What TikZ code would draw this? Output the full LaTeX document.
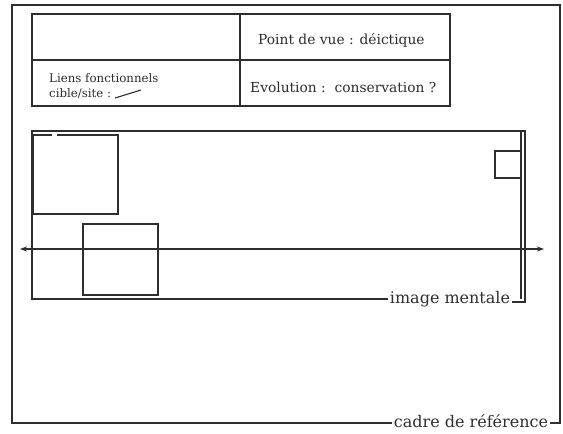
\documentclass[tikz,border=0pt]{standalone}
\usepackage{fontspec}
\setmainfont{DejaVu Serif}
\usetikzlibrary{arrows.meta}
\definecolor{ink}{HTML}{2E2E2E}
\tikzset{
  frameline/.style={draw=ink, line width=1.1pt},
  boxline/.style={draw=ink, line width=1.6pt},
  tabletext/.style={text=ink, inner sep=0pt, anchor=west, font=\fontsize{13.8}{16}\selectfont},
  lefttext/.style={text=ink, inner sep=0pt, anchor=west, font=\fontsize{11.8}{14.5}\selectfont},
  labeltext/.style={text=ink, inner sep=2pt, font=\fontsize{16}{18}\selectfont},
}
\begin{document}
\begin{tikzpicture}[x=1pt,y=-1pt]
\useasboundingbox[fill=white] (0,0) rectangle (563,434);
% outer frame: cadre de reference
\coordinate (oTL) at (12,5);
\coordinate (oTR) at (560,5);
\coordinate (oBL) at (12,423);
\coordinate (oBR) at (560,423);
\node[labeltext] (cadre) at (471,421) {cadre de référence};
\draw[frameline] (cadre.west |- oBL) -- (oBL) -- (oTL) -- (oTR) -- (oBR) -- (cadre.east |- oBR);
% table
\coordinate (tTL) at (32,14);
\coordinate (tBR) at (450,106);
\draw[frameline] (tTL) rectangle (tBR);
\draw[frameline] (32,60) -- (450,60);
\draw[frameline] (240,14) -- (240,106);
\node[tabletext] (pdv) at (258,40) {Point de vue : déictique};
\node[tabletext] (evo) at (250,87) {Evolution :\ \ conservation ?};
\node[lefttext, align=left] (liens) at (49,86) {Liens fonctionnels\\cible/site :};
\coordinate (lkA) at (115,98);
\coordinate (lkB) at (141,90);
\draw[draw=ink, line width=1.1pt] (lkA) -- (lkB);
% image mentale frame
\coordinate (iTL) at (32,131);
\coordinate (iBL) at (32,299);
\coordinate (iTR) at (525,131);
\coordinate (iBR) at (525,302);
\node[labeltext] (img) at (450,299) {image mentale};
\draw[frameline] (img.west |- iBL) -- (iBL) -- (iTL) -- (iTR) -- (iBR) -- (img.east |- iBR);
\draw[frameline] (521,131) -- (521,299);
% small square at right
\draw[boxline] (521,151) -- (495,151) -- (495,178) -- (521,178);
% square 1 (with gap in top edge)
\coordinate (s1a) at (52,135);
\coordinate (s1b) at (57,135);
\draw[boxline] (s1a) -- (33,135) -- (33,214) -- (118,214) -- (118,135) -- (s1b);
% square 2
\draw[boxline] (83,224) rectangle (158,295);
% axis arrow
\coordinate (axL) at (20,249);
\coordinate (axR) at (544,249);
\draw[draw=ink, line width=1.1pt, {Stealth[length=7pt,width=5pt]}-{Stealth[length=7pt,width=5pt]}] (axL) -- (axR);
\end{tikzpicture}
\end{document}
